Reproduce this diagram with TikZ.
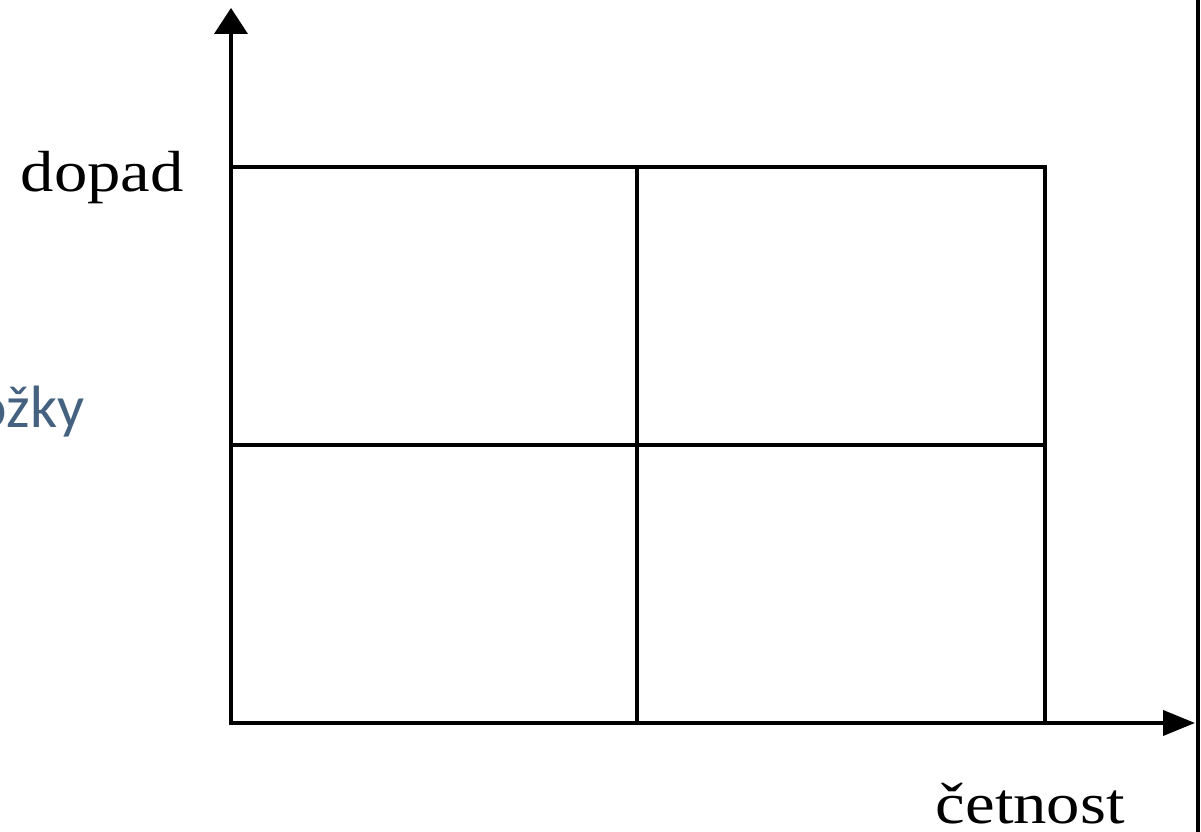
\documentclass[tikz,border=0pt]{standalone}
\usepackage{fontspec}
\setmainfont{Liberation Serif}
\newfontfamily\slidefont{Carlito}
\usetikzlibrary{arrows.meta}
\definecolor{slideblue}{RGB}{68,98,128}
\tikzset{
  axis/.style={line width=1.1pt},
  lbl/.style={inner sep=0pt, anchor=base west, font=\fontsize{16.5}{18}\selectfont, xscale=1.15},
}
\begin{document}
\begin{tikzpicture}
\useasboundingbox (0,0) rectangle (12.01,8.32);

\coordinate (O) at (2.31,1.09);
\coordinate (ytop) at (2.31,8.24);
\coordinate (xend) at (11.95,1.09);
\coordinate (tr) at (10.45,6.65);
\coordinate (mb) at (6.37,1.09);
\coordinate (mt) at (6.37,6.65);
\coordinate (ml) at (2.31,3.87);
\coordinate (mr) at (10.45,3.87);
\coordinate (edgeb) at (11.98,0);
\coordinate (edget) at (11.98,8.32);

\draw[axis] (O) rectangle (tr);
\draw[axis] (mb) -- (mt);
\draw[axis] (ml) -- (mr);

\draw[axis,-{Triangle[length=0.26cm,width=0.33cm]}] (O) -- (ytop);
\draw[axis,-{Triangle[length=0.32cm,width=0.25cm]}] (O) -- (xend);

\draw[line width=1pt] (edgeb) -- (edget);

\node[lbl] (dopad) at (0.20,6.40) {dopad};
\node[lbl] (cetnost) at (9.35,0.08) {četnost};
\node[inner sep=0pt, anchor=base east, text=slideblue,
  font=\slidefont\fontsize{17}{20}\selectfont] (polozky) at (0.85,4.04) {položky};
\end{tikzpicture}
\end{document}
